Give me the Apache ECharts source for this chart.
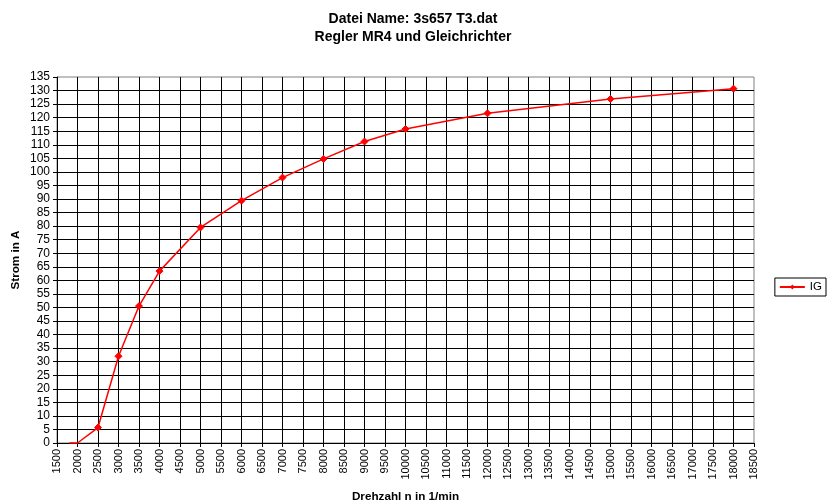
<!DOCTYPE html>
<html>
<head>
<meta charset="utf-8">
<script src="https://cdn.jsdelivr.net/npm/echarts@6/dist/echarts.min.js"></script>
<style>
html,body{margin:0;padding:0;background:#fff;}
#chart{width:834px;height:504px;}
</style>
</head>
<body>
<div id="chart"></div>
<script>
// Drehzahl (1/min) und Strom IG (A)
const drehzahl = [1800, 2000, 2500, 3000, 3500, 4000, 5000, 6000, 7000, 8000, 9000, 10000, 12000, 15000, 18000];
const stromIG  = [0, 0, 5.7, 32.0, 50.5, 63.4, 79.5, 89.4, 97.9, 104.8, 111.2, 115.8, 121.6, 126.9, 130.7];
// Punkte ohne Marker (am Achsenrand)
const ohneMarker = [1800, 2000];

const titel1 = 'Datei Name: 3s657 T3.dat';
const titel2 = 'Regler MR4 und Gleichrichter';
const xName = 'Drehzahl n in 1/min';
const yName = 'Strom in A';
const seriesName = 'IG';

const font = '"Liberation Sans", Arial, sans-serif';

const seriesData = drehzahl.map((x, i) => {
  const item = { value: [x, stromIG[i]] };
  if (ohneMarker.includes(x)) item.symbolSize = 0;
  return item;
});

const chart = echarts.init(document.getElementById('chart'), null, { renderer: 'canvas' });
chart.setOption({
  backgroundColor: '#fff',
  animation: false,
  title: [
    { text: titel1, left: 408, top: 7, textAlign: 'center',
      textStyle: { fontFamily: font, fontSize: 14, fontWeight: 'bold', color: '#000' } },
    { text: titel2, left: 408, top: 25, textAlign: 'center',
      textStyle: { fontFamily: font, fontSize: 14, fontWeight: 'bold', color: '#000' } }
  ],
  grid: { left: 57, right: 80, top: 77, bottom: 61, containLabel: false,
          outerBoundsMode: 'none',
          show: true, borderColor: '#808080', borderWidth: 1 },
  legend: {
    data: [seriesName],
    right: 8, top: 278,
    orient: 'vertical',
    borderColor: '#000', borderWidth: 1, borderRadius: 0,
    padding: [3, 4, 3, 4],
    itemWidth: 25, itemHeight: 6, itemGap: 0,
    textStyle: { fontFamily: font, fontSize: 11.5, color: '#000' }
  },
  xAxis: {
    type: 'value', min: 1500, max: 18500, interval: 500,
    name: xName, nameLocation: 'middle', nameGap: 48, nameMoveOverlap: false,
    nameTextStyle: { fontFamily: font, fontSize: 11.7, fontWeight: 'bold', color: '#000' },
    axisLine: { show: true, onZero: false, lineStyle: { color: '#000', width: 1 } },
    axisTick: { show: true, length: 4, lineStyle: { color: '#000' } },
    axisLabel: { rotate: 90, fontFamily: font, fontSize: 11, color: '#000', margin: 6,
                 showMinLabel: true, showMaxLabel: true, formatter: v => String(v) },
    splitLine: { show: true, showMaxLine: false, lineStyle: { color: '#000', width: 1 } }
  },
  yAxis: {
    type: 'value', min: 0, max: 135, interval: 5,
    name: yName, nameLocation: 'middle', nameGap: 35, nameRotate: 90, nameMoveOverlap: false,
    nameTextStyle: { fontFamily: font, fontSize: 11.7, fontWeight: 'bold', color: '#000' },
    axisLine: { show: true, lineStyle: { color: '#000', width: 1 } },
    axisTick: { show: true, length: 4, lineStyle: { color: '#000' } },
    axisLabel: { fontFamily: font, fontSize: 12, color: '#000', margin: 7, formatter: v => String(v) },
    splitLine: { show: true, showMaxLine: false, lineStyle: { color: '#000', width: 1 } }
  },
  series: [{
    name: seriesName,
    type: 'line',
    data: seriesData,
    clip: false,
    symbol: 'diamond',
    symbolSize: 7,
    lineStyle: { color: '#ff0000', width: 1.5 },
    itemStyle: { color: '#ff0000', borderColor: '#ff0000' }
  }]
});
</script>
</body>
</html>
